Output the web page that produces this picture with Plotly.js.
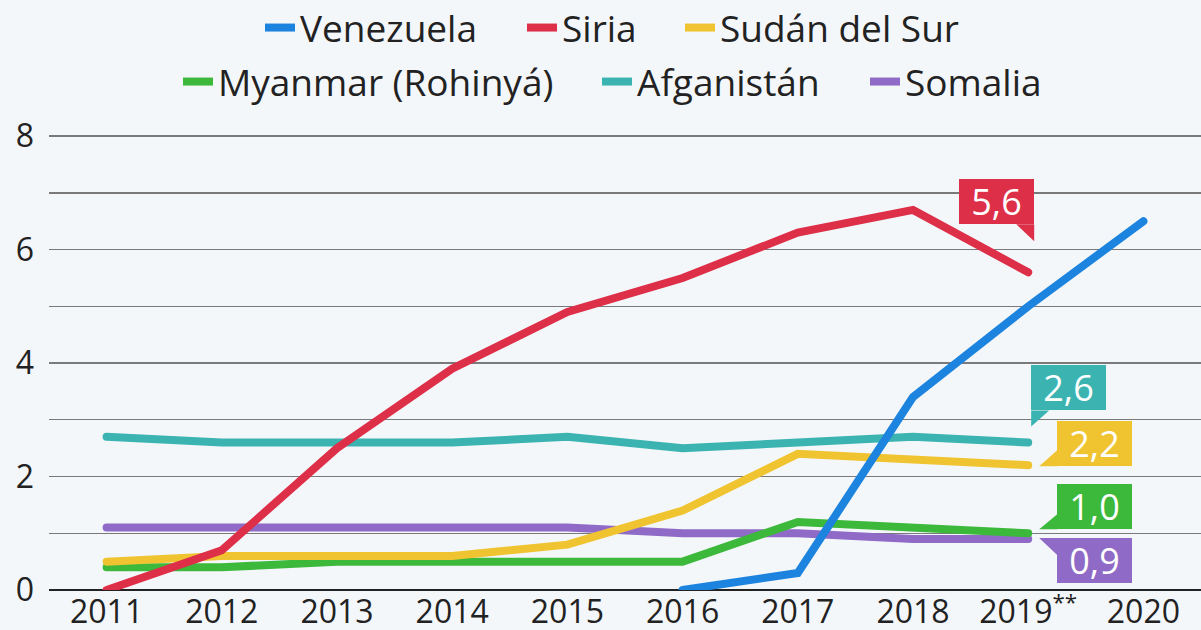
<!DOCTYPE html>
<html>
<head>
<meta charset="utf-8">
<script src="https://cdn.plot.ly/plotly-3.0.1.min.js"></script>
<style>
html,body{margin:0;padding:0;background:#f4f7fa;}
#chart{width:1201px;height:630px;}
.scatterlayer path.js-line{stroke-linecap:round;}
</style>
</head>
<body>
<div id="chart"></div>
<script>
// ---- data ----
var years = ['2011','2012','2013','2014','2015','2016','2017','2018','2019<sup>**</sup>','2020'];
var venezuela  = [null,null,null,null,null,0,0.3,3.4,5.0,6.5];
var siria      = [0,0.7,2.5,3.9,4.9,5.5,6.3,6.7,5.6,null];
var sudan      = [0.5,0.6,0.6,0.6,0.8,1.4,2.4,2.3,2.2,null];
var myanmar    = [0.4,0.4,0.5,0.5,0.5,0.5,1.2,1.1,1.0,null];
var afganistan = [2.7,2.6,2.6,2.6,2.7,2.5,2.6,2.7,2.6,null];
var somalia    = [1.1,1.1,1.1,1.1,1.1,1.0,1.0,0.9,0.9,null];
var seriesNames = ['Venezuela','Siria','Sudán del Sur','Myanmar (Rohinyá)','Afganistán','Somalia'];
var yTickVals = [0,2,4,6,8];

// ---- styling ----
var colors = {
  'Venezuela':'#1c84df', 'Siria':'#de2f48', 'Sudán del Sur':'#f0c431',
  'Myanmar (Rohinyá)':'#3cb93b', 'Afganistán':'#3bb4b1', 'Somalia':'#8f6ac6'
};
var values = {
  'Venezuela':venezuela, 'Siria':siria, 'Sudán del Sur':sudan,
  'Myanmar (Rohinyá)':myanmar, 'Afganistán':afganistan, 'Somalia':somalia
};
// drawing order (bottom to top)
var drawOrder = ['Somalia','Afganistán','Myanmar (Rohinyá)','Sudán del Sur','Venezuela','Siria'];
// one legend per entry: [legend id, text start px, row centre px]
var legendSpec = {
  'Venezuela':        ['legend',  300, 28],
  'Siria':            ['legend2', 562, 28],
  'Sudán del Sur':    ['legend3', 720, 28],
  'Myanmar (Rohinyá)':['legend4', 218, 82],
  'Afganistán':       ['legend5', 637, 82],
  'Somalia':          ['legend6', 905, 82]
};

var traces = drawOrder.map(function(n){
  return {
    type:'scatter', mode:'lines', name:n, x:years, y:values[n],
    line:{color:colors[n], width:8}, connectgaps:false,
    legend:legendSpec[n][0], hoverinfo:'skip'
  };
});

function lastIdx(arr){ for(var i=arr.length-1;i>=0;i--){ if(arr[i]!==null) return i; } return -1; }
function fmt(v){ return v.toFixed(1).replace('.', ','); }

// label box placement (pixel offsets from the end point): [xanchor, xshift, yanchor, yshift]
var labelPos = {
  'Siria':            ['right', 6,  'bottom', 48],
  'Venezuela':        ['right', 6,  'bottom', 27],
  'Afganistán':       ['left',  3,  'bottom', 32],
  'Sudán del Sur':    ['left',  29, 'bottom', -1],
  'Myanmar (Rohinyá)':['left',  29, 'bottom', 4],
  'Somalia':          ['left',  29, 'top',    1]
};
// tail triangles (pixel offsets, y up)
var tails = {
  'Siria':            [[6,48],[-12,48],[6,31]],
  'Venezuela':        [[-12,27],[6,27],[6,10]],
  'Afganistán':       [[3,32],[21,32],[3,16]],
  'Sudán del Sur':    [[29,15],[29,-1],[11,-1]],
  'Myanmar (Rohinyá)':[[29,19],[29,4],[11,4]],
  'Somalia':          [[11,1],[29,1],[29,-16]]
};

var annotations = [], shapes = [];
seriesNames.forEach(function(n){
  var arr = values[n], i = lastIdx(arr), p = labelPos[n];
  annotations.push({
    x: years[i], y: arr[i], xref:'x', yref:'y',
    text: fmt(arr[i]), showarrow:false,
    xanchor:p[0], xshift:p[1], yanchor:p[2], yshift:p[3],
    width:75, height:45, borderpad:0, borderwidth:0,
    bgcolor:colors[n], font:{family:'Open Sans', size:36, color:'#ffffff'}
  });
  var t = tails[n];
  shapes.push({
    type:'path', xref:'x', yref:'y', xsizemode:'pixel', ysizemode:'pixel',
    xanchor: years[i], yanchor: arr[i],
    path: 'M'+t[0][0]+','+t[0][1]+' L'+t[1][0]+','+t[1][1]+' L'+t[2][0]+','+t[2][1]+' Z',
    fillcolor: colors[n], line:{width:0}
  });
});

var W = 1201, H = 630;
var layout = {
  width:W, height:H,
  paper_bgcolor:'#f4f7fa', plot_bgcolor:'#f4f7fa',
  margin:{l:49, r:0, t:135, b:40},
  showlegend:true,
  xaxis:{
    type:'category', range:[-0.5,9.5], showgrid:false, zeroline:false,
    showline:false, ticks:'', tickfont:{family:'Open Sans', size:32, color:'#222'},
    ticklabelstandoff:0, fixedrange:true
  },
  yaxis:{
    range:[0,8.02], tickvals:yTickVals, ticktext:yTickVals.map(String),
    showgrid:true, gridcolor:'#7a7a7a', gridwidth:1.4,
    minor:{dtick:1, tick0:0, showgrid:true, gridcolor:'#7a7a7a', gridwidth:1.4},
    zeroline:true, zerolinecolor:'#222', zerolinewidth:1.6,
    showline:false, ticks:'', tickfont:{family:'Open Sans', size:32, color:'#222'},
    ticklabelstandoff:14, fixedrange:true
  },
  annotations:annotations,
  shapes:shapes
};
seriesNames.forEach(function(n){
  var s = legendSpec[n];
  layout[s[0]] = {
    orientation:'h', xref:'container', yref:'container',
    x:(s[1]-40)/W, xanchor:'left', y:1-s[2]/H, yanchor:'middle',
    bgcolor:'rgba(0,0,0,0)', borderwidth:0,
    font:{family:'Open Sans', size:37, color:'#222'}
  };
});

Plotly.newPlot('chart', traces, layout, {displayModeBar:false, staticPlot:true});
</script>
</body>
</html>
